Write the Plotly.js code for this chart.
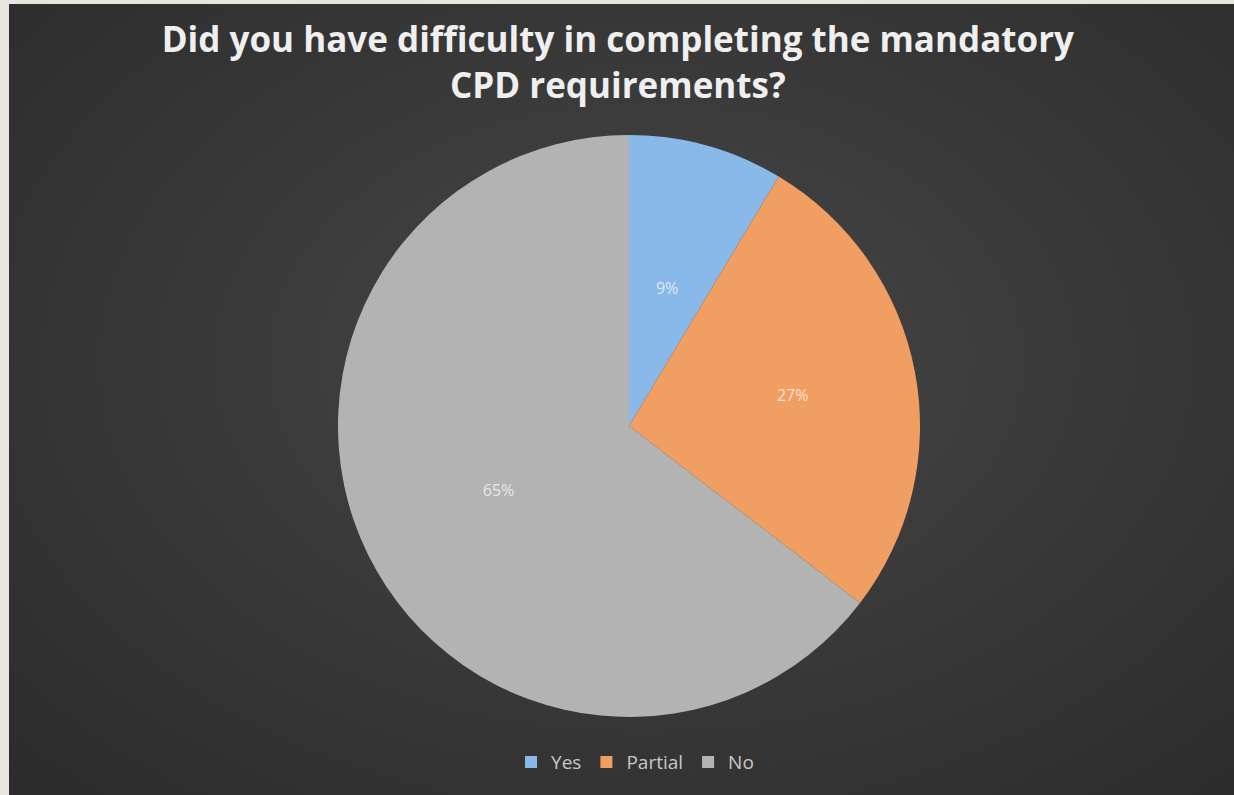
<!DOCTYPE html>
<html>
<head>
<meta charset="utf-8">
<script src="https://cdn.plot.ly/plotly-3.0.1.min.js"></script>
<style>
html,body{margin:0;padding:0;background:#e8e5df;width:1234px;height:795px;overflow:hidden;}
#chart{position:absolute;left:9px;top:4px;width:1225px;height:791px;
background:radial-gradient(ellipse at 52% 45%, #484848 0%, #3a3a3a 45%, #2b2b2b 100%);}
</style>
</head>
<body>
<div id="chart"></div>
<script>
const categories = ["Yes", "Partial", "No"];
const shares = [8.6, 26.8, 64.6];
const sliceColors = ["#88b9e8", "#f19e62", "#b3b3b3"];
const chartTitle = "Did you have difficulty in completing the mandatory<br>CPD requirements?";

const labelFont = {family: "Open Sans", size: 16, color: "rgba(255,255,255,0.72)"};

const mainPie = {
  type: "pie",
  labels: categories,
  values: shares,
  sort: false,
  direction: "clockwise",
  rotation: 0,
  marker: {colors: sliceColors, line: {width: 0}},
  texttemplate: ["", "%{percent:.0%}", "%{percent:.0%}"],
  textposition: "inside",
  insidetextorientation: "horizontal",
  textfont: labelFont,
  hoverinfo: "label+percent",
  domain: {x: [0, 1], y: [0, 1]}
};

// transparent copy of the same pie, smaller, used only to place the small slice's label nearer the centre
const labelPie = {
  type: "pie",
  labels: categories,
  values: shares,
  sort: false,
  direction: "clockwise",
  rotation: 0,
  marker: {colors: ["rgba(0,0,0,0)", "rgba(0,0,0,0)", "rgba(0,0,0,0)"], line: {width: 0}},
  texttemplate: ["%{percent:.0%}", "", ""],
  textposition: "inside",
  insidetextorientation: "horizontal",
  textfont: labelFont,
  hoverinfo: "skip",
  showlegend: false,
  domain: {x: [0.3504, 0.6496], y: [0.189, 0.811]}
};

const layout = {
  width: 1225,
  height: 791,
  paper_bgcolor: "rgba(0,0,0,0)",
  plot_bgcolor: "rgba(0,0,0,0)",
  margin: {l: 15, r: 0, t: 131, b: 78},
  title: {
    text: chartTitle,
    font: {family: "Open Sans", size: 35, color: "#efefef", weight: "bold"},
    x: 0.497, xanchor: "center",
    y: 0.939, yanchor: "top", yref: "container"
  },
  showlegend: true,
  legend: {
    orientation: "h",
    x: 0.505, xanchor: "center",
    y: -0.045, yanchor: "top",
    font: {family: "Open Sans", size: 19, color: "#c8c8c8"},
    bgcolor: "rgba(0,0,0,0)",
    traceorder: "normal"
  }
};

Plotly.newPlot("chart", [mainPie, labelPie], layout, {displayModeBar: false, staticPlot: true});
</script>
</body>
</html>
